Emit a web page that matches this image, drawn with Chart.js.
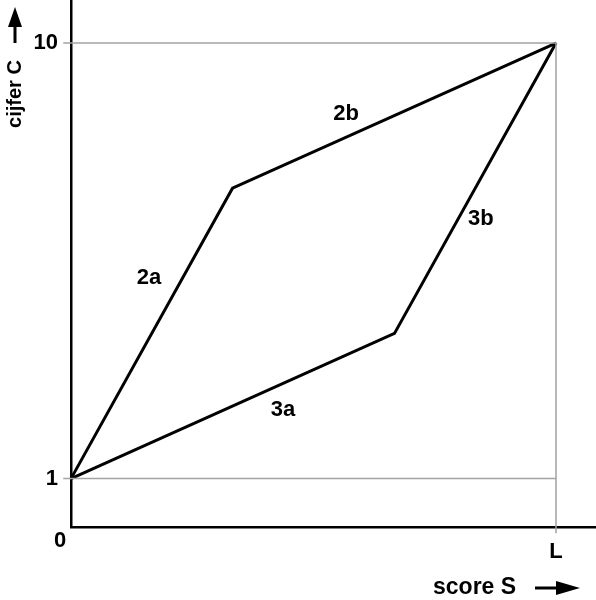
<!DOCTYPE html>
<html>
<head>
<meta charset="utf-8">
<script src="https://cdn.jsdelivr.net/npm/chart.js@4.4.1/dist/chart.umd.min.js"></script>
<style>
  html, body { margin: 0; padding: 0; background: #fff; }
  canvas { display: block; }
</style>
</head>
<body>
<canvas id="chart" width="596" height="600"></canvas>
<script>
// score S runs from 0 to L (L taken as 10 units), cijfer C from 1 to 10
var L = 10;

// method 2 (2a then 2b)
var score2 = [0, 3.33, L];
var cijfer2 = [1, 7, 10];
// method 3 (3a then 3b)
var score3 = [0, 6.67, L];
var cijfer3 = [1, 4, 10];

var yTickValues = [1, 10];
var xTickValues = [L];
var xTickLabels = ['L'];

// segment labels and where they sit (data units)
var segNames = ['2a', '2b', '3a', '3b'];
var segScore = [1.61, 5.67, 4.37, 8.45];
var segCijfer = [5.14, 8.53, 2.42, 6.36];

var FONT = '"Liberation Sans", Arial, Helvetica, sans-serif';
var grey = '#a3a3a3';

function pts(xs, ys) {
  return xs.map(function (v, i) { return { x: v, y: ys[i] }; });
}

var textPlugin = {
  id: 'textPlugin',
  afterDatasetsDraw: function (chart) {
    var ctx = chart.ctx;
    var x = chart.scales.x, y = chart.scales.y;
    ctx.save();
    ctx.fillStyle = '#000';
    ctx.textAlign = 'center';
    ctx.textBaseline = 'middle';
    ctx.font = 'bold 22px ' + FONT;
    segNames.forEach(function (t, i) {
      ctx.fillText(t, x.getPixelForValue(segScore[i]), y.getPixelForValue(segCijfer[i]));
    });
    // origin label
    ctx.fillText('0', x.getPixelForValue(0) - 11, y.getPixelForValue(0) + 14);

    // x title with arrow
    ctx.font = 'bold 23px ' + FONT;
    ctx.textAlign = 'left';
    ctx.fillText('score S', 433, 588);
    ctx.fillRect(535, 586.5, 25, 3);
    ctx.beginPath();
    ctx.moveTo(556, 581); ctx.lineTo(580, 588); ctx.lineTo(556, 595);
    ctx.closePath(); ctx.fill();

    // y title with arrow
    ctx.save();
    ctx.translate(15, 94);
    ctx.rotate(-Math.PI / 2);
    ctx.textAlign = 'center';
    ctx.font = 'bold 20px ' + FONT;
    ctx.fillText('cijfer C', 0, 0);
    ctx.restore();
    ctx.fillRect(13.5, 24, 3, 19);
    ctx.beginPath();
    ctx.moveTo(8, 27); ctx.lineTo(15, 7); ctx.lineTo(22, 27);
    ctx.closePath(); ctx.fill();
    ctx.restore();
  }
};

new Chart(document.getElementById('chart'), {
  type: 'scatter',
  data: {
    datasets: [
      {
        // reference lines C = 10, S = L
        data: pts([-0.16, L, L], [10, 10, -0.13]),
        showLine: true, borderColor: grey, borderWidth: 1.5,
        pointRadius: 0, clip: false
      },
      {
        // reference line C = 1
        data: pts([-0.16, L], [1, 1]),
        showLine: true, borderColor: grey, borderWidth: 1.5,
        pointRadius: 0, clip: false
      },
      {
        data: pts(score2, cijfer2),
        showLine: true, borderColor: '#000', borderWidth: 3,
        pointRadius: 0, clip: false
      },
      {
        data: pts(score3, cijfer3),
        showLine: true, borderColor: '#000', borderWidth: 3,
        pointRadius: 0, clip: false
      }
    ]
  },
  options: {
    responsive: false,
    animation: false,
    layout: { padding: 0 },
    plugins: { legend: { display: false }, tooltip: { enabled: false } },
    scales: {
      x: {
        type: 'linear',
        min: 0,
        max: 10.825,
        afterFit: function (s) { s.height = 73; s.paddingLeft = 0; s.paddingRight = 0; },
        afterBuildTicks: function (s) {
          s.ticks = xTickValues.map(function (v) { return { value: v }; });
        },
        ticks: {
          callback: function (v) { return xTickLabels[xTickValues.indexOf(v)]; },
          color: '#000',
          font: { family: FONT, size: 22, weight: 'bold' },
          padding: 12,
          maxRotation: 0
        },
        grid: { display: false, drawTicks: false },
        border: { display: true, color: '#000', width: 2.5 }
      },
      y: {
        type: 'linear',
        min: 0,
        max: 10.89,
        afterFit: function (s) { s.width = 71; s.paddingTop = 0; s.paddingBottom = 0; },
        afterBuildTicks: function (s) {
          s.ticks = yTickValues.map(function (v) { return { value: v }; });
        },
        ticks: {
          color: '#000',
          font: { family: FONT, size: 22, weight: 'bold' },
          padding: 13
        },
        grid: { display: false, drawTicks: false },
        border: { display: true, color: '#000', width: 2.5 }
      }
    }
  },
  plugins: [textPlugin]
});
</script>
</body>
</html>
